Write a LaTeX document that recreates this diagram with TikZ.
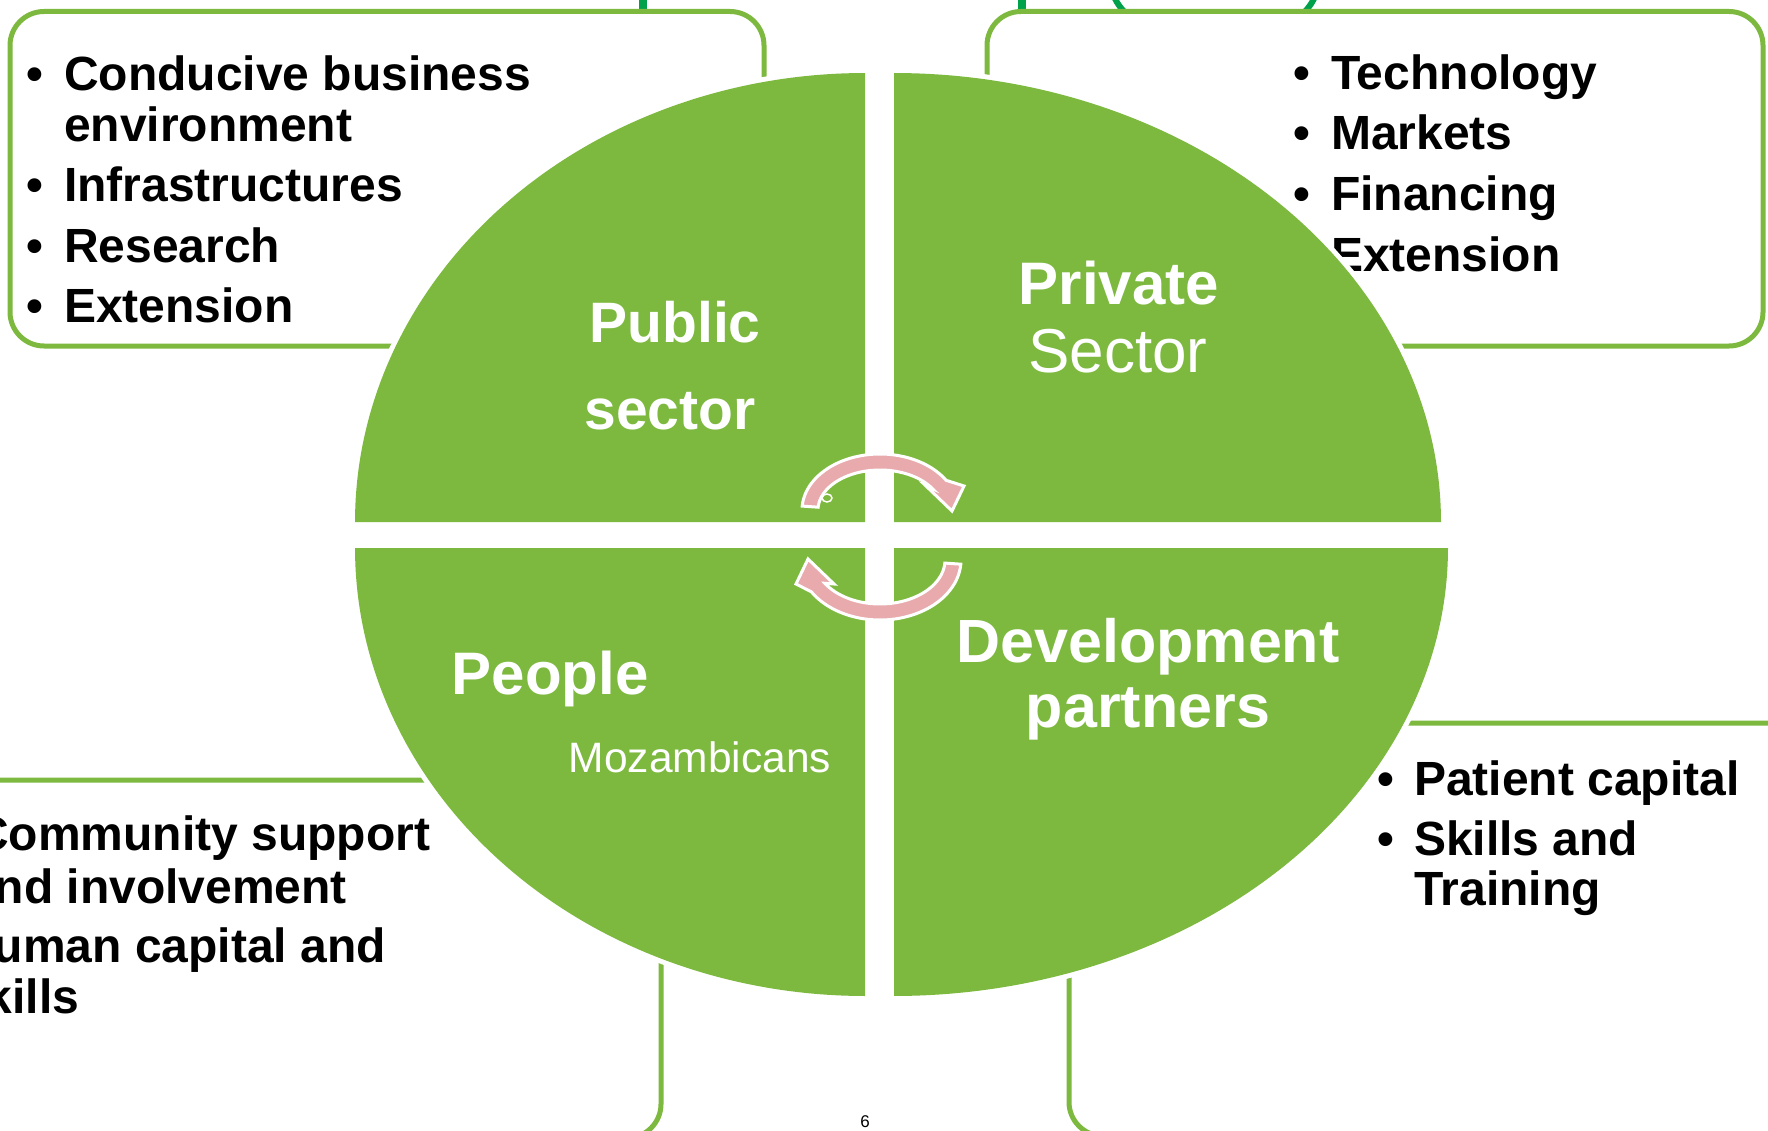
\documentclass[tikz,border=0pt]{standalone}
\usepackage{fontspec}
\setmainfont{Liberation Sans}
\definecolor{qgreen}{RGB}{125,185,63}
\definecolor{dkgreen}{RGB}{0,161,75}
\definecolor{pinkarr}{RGB}{232,170,172}
\tikzset{
  ibox/.style={draw=qgreen, line width=5, fill=white, rounded corners=34},
  btxt/.style={anchor=base west, inner sep=0, text=black, font=\fontsize{48}{51}\selectfont\bfseries},
  bul/.style={anchor=base, inner sep=0, text=black, font=\fontsize{48}{51}\selectfont\bfseries},
  quad/.style={fill=qgreen, preaction={draw=white, line width=10}},
  qlbl/.style={anchor=base, inner sep=0, text=white},
  arr/.style={fill=pinkarr, draw=white, line width=3, line join=miter},
  frag/.style={draw=dkgreen}
}
\begin{document}
\begin{tikzpicture}[x=1pt,y=-1pt]
\useasboundingbox (0,0) rectangle (1768,1131);
\clip (0,0) rectangle (1768,1131);
\fill[white] (0,0) rectangle (1768,1131);

% fragments of shapes above the picture
\draw[frag, line width=8] (643,-5) -- (643,14);
\draw[frag, line width=8] (1022,-5) -- (1022,14);
\draw[frag, line width=6] (1214.5,-20) ellipse [x radius=104, y radius=64];

% boxes
\draw[ibox] (10,11.5) rectangle (764,346);
\draw[ibox] (987,11.5) rectangle (1763,346);
\draw[ibox] (-60,780) rectangle (661,1138);
\draw[ibox] (1069,723) rectangle (1830,1136);

% top-left texts
\node[bul] (tlb1) at (35,91) {•};
\node[btxt] (tl1a) at (64,91) {Conducive business};
\node[btxt] (tl1b) at (64,142) {environment};
\node[bul] (tlb2) at (35,202) {•};
\node[btxt] (tl2) at (64,202) {Infrastructures};
\node[bul] (tlb3) at (35,263) {•};
\node[btxt] (tl3) at (64,263) {Research};
\node[bul] (tlb4) at (35,323) {•};
\node[btxt] (tl4) at (64,323) {Extension};

% top-right texts
\node[bul] (trb1) at (1302,90) {•};
\node[btxt] (tr1) at (1331,90) {Technology};
\node[bul] (trb2) at (1302,150) {•};
\node[btxt] (tr2) at (1331,150) {Markets};
\node[bul] (trb3) at (1302,211) {•};
\node[btxt] (tr3) at (1331,211) {Financing};
\node[bul] (trb4) at (1302,272) {•};
\node[btxt] (tr4) at (1331,272) {Extension};

% bottom-left texts (cut off by the left edge, as in the reference)
\node[bul] (blb1) at (-55,850) {•};
\node[btxt] (bl1a) at (-26,850) {Community support};
\node[btxt] (bl1b) at (-32,903) {and involvement};
\node[bul] (blb2) at (-69,962) {•};
\node[btxt] (bl2a) at (-41,962) {Human capital and};
\node[btxt] (bl2b) at (-41,1013) {skills};

% bottom-right texts
\node[bul] (brb1) at (1386,795) {•};
\node[btxt] (br1) at (1414,795) {Patient capital};
\node[bul] (brb2) at (1386,855) {•};
\node[btxt] (br2a) at (1414,855) {Skills and};
\node[btxt] (br2b) at (1414,905) {Training};

% quadrants
\path[quad] (865,522) -- plot[smooth, domain=180:270, samples=60] ({865+510*cos(\x)},{522+449*sin(\x)}) -- cycle;
\path[quad] (894,522) -- plot[smooth, domain=270:360, samples=60] ({894+547*cos(\x)},{522+449*sin(\x)}) -- cycle;
\path[quad] (865,548) -- plot[smooth, domain=90:180, samples=60] ({865+510*cos(\x)},{548+448*sin(\x)}) -- cycle;
\path[quad] (894,548) -- plot[smooth, domain=0:90, samples=60] ({894+554*cos(\x)},{548+448*sin(\x)}) -- cycle;

% quadrant labels
\node[qlbl, font=\fontsize{57}{60}\selectfont\bfseries] (pub) at (675,342) {Public};
\node[qlbl, font=\fontsize{57}{60}\selectfont\bfseries] (sec) at (670,429) {sector};
\node[qlbl, font=\fontsize{60}{62}\selectfont\bfseries] (priv) at (1119,305) {Private};
\node[qlbl, font=\fontsize{62}{64}\selectfont] (psec) at (1118,372) {Sector};
\node[qlbl, font=\fontsize{60}{62}\selectfont\bfseries] (peo) at (550,694) {People};
\node[qlbl, font=\fontsize{42.5}{45}\selectfont] (moz) at (700,772) {Mozambicans};
\node[qlbl, font=\fontsize{61}{63}\selectfont\bfseries] (dev) at (1148,662) {Development};
\node[qlbl, font=\fontsize{61}{63}\selectfont\bfseries] (part) at (1148,727) {partners};

% circular arrows
\path[arr] plot[smooth, domain=184:328, samples=40] ({880+78*cos(\x)},{510+56*sin(\x)})
  -- (964,486) -- (952,511) -- (926,486)
  -- plot[smooth, domain=328:184, samples=40] ({880+62*cos(\x)},{510+40*sin(\x)}) -- cycle;
\draw[white, line width=1.5] (827,498) ellipse [x radius=5, y radius=4];
\path[arr] plot[smooth, domain=4:148, samples=40] ({880+81*cos(\x)},{560+60*sin(\x)})
  -- (796,584) -- (808,559) -- (834,584)
  -- plot[smooth, domain=148:4, samples=40] ({880+65*cos(\x)},{560+44*sin(\x)}) -- cycle;

% page number
\node[anchor=base, inner sep=0, font=\fontsize{17}{19}\selectfont] (pg) at (865,1127) {6};
\end{tikzpicture}
\end{document}
